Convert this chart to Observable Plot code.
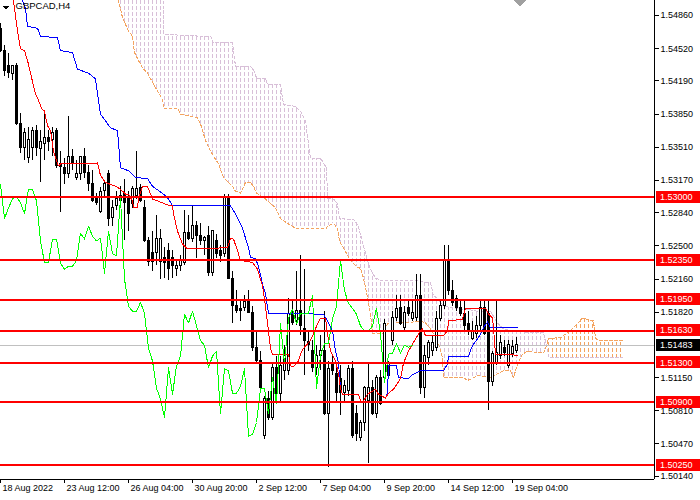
<!DOCTYPE html>
<html><head><meta charset="utf-8">
<script src="https://cdn.jsdelivr.net/npm/d3@7"></script>
<script src="https://cdn.jsdelivr.net/npm/@observablehq/plot@0.6"></script>
<style>
html,body{margin:0;padding:0;background:#fff;}
#chart svg{display:block;}
</style></head><body><div id="chart"></div>
<script>
// ---- Candles (GBPCAD H4), bar index 0..129 ----
const open = [
1.5472,1.5450,1.5434,1.5426,1.5434,1.5375,1.5350,1.5340,1.5350,1.5368,
1.5349,1.5354,1.5361,1.5358,1.5368,1.5334,1.5330,1.5324,1.5341,1.5320,
1.5324,1.5341,1.5325,1.5313,1.5298,1.5285,1.5306,1.5324,1.5279,1.5291,
1.5296,1.5303,1.5299,1.5293,1.5301,1.5309,1.5289,1.5255,1.5243,1.5243,
1.5233,1.5238,1.5245,1.5238,1.5226,1.5229,1.5232,1.5263,1.5257,1.5270,
1.5260,1.5255,1.5260,1.5222,1.5255,1.5245,1.5242,1.5299,1.5216,1.5188,
1.5185,1.5186,1.5192,1.5181,1.5145,1.5132,1.5055,1.5093,1.5074,1.5125,
1.5098,1.5122,1.5122,1.5180,1.5173,1.5183,1.5165,1.5151,1.5142,1.5125,
1.5137,1.5142,1.5078,1.5129,1.5119,1.5114,1.5099,1.5101,1.5124,1.5078,
1.5053,1.5069,1.5091,1.5104,1.5078,1.5115,1.5115,1.5117,1.5153,1.5176,
1.5186,1.5166,1.5186,1.5175,1.5176,1.5199,1.5104,1.5135,1.5142,1.5145,
1.5175,1.5188,1.5235,1.5204,1.5196,1.5186,1.5180,1.5170,1.5155,1.5160,
1.5168,1.5186,1.5180,1.5110,1.5129,1.5137,1.5145,1.5127,1.5139,1.5142];
const high = [
1.5478,1.5455,1.5447,1.5434,1.5437,1.5386,1.5370,1.5371,1.5371,1.5373,
1.5368,1.5385,1.5368,1.5371,1.5370,1.5347,1.5340,1.5383,1.5349,1.5337,
1.5342,1.5350,1.5332,1.5327,1.5304,1.5310,1.5317,1.5327,1.5296,1.5306,
1.5311,1.5318,1.5306,1.5311,1.5347,1.5313,1.5296,1.5259,1.5265,1.5281,
1.5267,1.5248,1.5252,1.5245,1.5235,1.5240,1.5286,1.5281,1.5291,1.5275,
1.5273,1.5260,1.5270,1.5265,1.5262,1.5250,1.5303,1.5303,1.5224,1.5204,
1.5194,1.5199,1.5204,1.5188,1.5163,1.5142,1.5096,1.5101,1.5130,1.5137,
1.5137,1.5148,1.5196,1.5194,1.5224,1.5240,1.5226,1.5163,1.5153,1.5148,
1.5158,1.5183,1.5132,1.5137,1.5127,1.5127,1.5112,1.5127,1.5132,1.5086,
1.5071,1.5106,1.5129,1.5112,1.5117,1.5122,1.5175,1.5132,1.5183,1.5199,
1.5199,1.5188,1.5194,1.5194,1.5221,1.5221,1.5148,1.5153,1.5158,1.5183,
1.5194,1.5250,1.5250,1.5214,1.5199,1.5194,1.5194,1.5183,1.5173,1.5178,
1.5194,1.5194,1.5194,1.5142,1.5194,1.5158,1.5153,1.5153,1.5153,1.5156];
const low = [
1.5448,1.5424,1.5421,1.5419,1.5373,1.5345,1.5337,1.5334,1.5337,1.5342,
1.5315,1.5337,1.5347,1.5342,1.5329,1.5284,1.5313,1.5319,1.5327,1.5317,
1.5317,1.5319,1.5306,1.5294,1.5291,1.5283,1.5301,1.5270,1.5270,1.5286,
1.5288,1.5255,1.5265,1.5288,1.5298,1.5294,1.5253,1.5229,1.5224,1.5230,
1.5216,1.5217,1.5214,1.5217,1.5219,1.5224,1.5230,1.5255,1.5253,1.5237,
1.5250,1.5240,1.5219,1.5219,1.5237,1.5233,1.5238,1.5216,1.5170,1.5181,
1.5173,1.5183,1.5181,1.5142,1.5130,1.5101,1.5052,1.5071,1.5071,1.5096,
1.5091,1.5112,1.5117,1.5168,1.5168,1.5158,1.5117,1.5142,1.5120,1.5117,
1.5122,1.5076,1.5023,1.5117,1.5091,1.5076,1.5091,1.5096,1.5053,1.5050,
1.5050,1.5060,1.5027,1.5076,1.5073,1.5086,1.5112,1.5114,1.5148,1.5173,
1.5168,1.5163,1.5178,1.5173,1.5173,1.5098,1.5094,1.5127,1.5137,1.5142,
1.5173,1.5185,1.5199,1.5188,1.5183,1.5178,1.5163,1.5158,1.5153,1.5155,
1.5163,1.5158,1.5081,1.5106,1.5127,1.5134,1.5137,1.5124,1.5136,1.5140];
const close = [
1.5450,1.5429,1.5427,1.5434,1.5375,1.5350,1.5366,1.5358,1.5368,1.5350,
1.5356,1.5361,1.5356,1.5366,1.5332,1.5331,1.5324,1.5341,1.5334,1.5324,
1.5341,1.5325,1.5313,1.5296,1.5294,1.5305,1.5313,1.5278,1.5289,1.5298,
1.5301,1.5294,1.5283,1.5308,1.5308,1.5296,1.5255,1.5233,1.5233,1.5257,
1.5257,1.5232,1.5226,1.5229,1.5229,1.5235,1.5263,1.5257,1.5270,1.5260,
1.5255,1.5258,1.5222,1.5265,1.5242,1.5240,1.5299,1.5216,1.5188,1.5183,
1.5183,1.5192,1.5181,1.5145,1.5132,1.5104,1.5093,1.5074,1.5125,1.5098,
1.5127,1.5137,1.5180,1.5171,1.5183,1.5168,1.5153,1.5148,1.5125,1.5137,
1.5142,1.5078,1.5124,1.5122,1.5099,1.5099,1.5106,1.5124,1.5055,1.5057,
1.5069,1.5104,1.5104,1.5078,1.5115,1.5088,1.5170,1.5129,1.5176,1.5185,
1.5170,1.5181,1.5180,1.5181,1.5199,1.5104,1.5137,1.5150,1.5150,1.5175,
1.5188,1.5235,1.5204,1.5191,1.5186,1.5180,1.5168,1.5163,1.5163,1.5168,
1.5186,1.5160,1.5110,1.5139,1.5140,1.5150,1.5140,1.5148,1.5146,1.51483];

// ---- Ichimoku: Tenkan-sen (red) ----
const tenkanBar = [2.5,3.25,3.75,4.25,5,6,6.75,7.5,8.25,8.75,9.5,10.25,11,11.75,12.5,13.25,14,14.5,15,23.25,24.25,25,26.25,28.75,30,31.25,32,33,33.25,34.25,34.5,35.5,36.75,38,39.25,41.75,43,43.25,44.25,45.5,46.75,56.75,57.5,58.25,59.25,60,63,64.25,65.5,66.25,67.5,68,72,72.5,73.25,74.5,75,75.75,77.5,78.25,79.25,80,81.25,81.75,82.5,83.75,84.5,85,85.5,89.5,90,90.75,91.75,93.75,94.5,96.25,97,98.25,100,100.75,102,103.25,105,105.5,106.25,110.75,111.75,112,115.5,116.25,121.25,122,123,123.25,123.75,129.25];
const tenkanPrice = [1.5516,1.5501,1.5486,1.5470,1.5452,1.5450,1.5440,1.5427,1.5414,1.5406,1.5399,1.5391,1.5388,1.5373,1.5368,1.5347,1.5337,1.5332,1.5334,1.5334,1.5335,1.5322,1.5315,1.5311,1.5308,1.5303,1.5303,1.5296,1.5289,1.5289,1.5298,1.5311,1.5311,1.5298,1.5296,1.5292,1.5291,1.5283,1.5265,1.5252,1.5247,1.5248,1.5258,1.5257,1.5245,1.5235,1.5233,1.5226,1.5209,1.5188,1.5145,1.5139,1.5139,1.5127,1.5126,1.5132,1.5139,1.5145,1.5153,1.5160,1.5170,1.5176,1.5176,1.5160,1.5142,1.5132,1.5119,1.5104,1.5098,1.5098,1.5091,1.5091,1.5098,1.5103,1.5098,1.5094,1.5099,1.5103,1.5114,1.5130,1.5142,1.5151,1.5163,1.5165,1.5158,1.5158,1.5163,1.5173,1.5175,1.5186,1.5186,1.5180,1.5176,1.5166,1.5139,1.5138];

// ---- Kijun-sen (blue) ----
const kijunBar = [5,5.5,6.25,6.75,9.25,10,14.25,15,18,19.25,22,23.75,25,27.5,29.25,30,32,33.75,36.75,38,40.75,42,43,57.5,58.25,59.25,60.5,61.25,62,62.5,63.75,64.5,65.5,66.25,67,80.75,81.75,83,83.75,84.5,85,85.5,89.5,90,90.75,91.75,93.75,94.5,96.25,96.75,97,99,99.5,102,103,105,110.75,111.75,112,117,118,119.5,120.75,121.75,122.5,129.25];
const kijunPrice = [1.5511,1.5501,1.5493,1.5475,1.5473,1.5465,1.5463,1.5450,1.5448,1.5431,1.5427,1.5421,1.5385,1.5371,1.5368,1.5330,1.5327,1.5320,1.5319,1.5311,1.5303,1.5298,1.5291,1.5291,1.5286,1.5279,1.5268,1.5258,1.5248,1.5238,1.5237,1.5229,1.5211,1.5201,1.5181,1.5180,1.5173,1.5163,1.5142,1.5130,1.5104,1.5098,1.5098,1.5091,1.5091,1.5098,1.5103,1.5098,1.5094,1.5099,1.5127,1.5127,1.5115,1.5114,1.5118,1.5122,1.5122,1.5129,1.5137,1.5137,1.5148,1.5156,1.5166,1.5172,1.5166,1.5166];

// ---- Kumo: Senkou Span A (sandy brown) and B (thistle) ----
const cloudBar = [28,29.5,30.5,32,33,33.5,35.5,36.75,38.75,40,40.5,40.75,44.25,45,49.25,50,51.25,52.5,53.25,54.5,55.75,58,58.75,60,61.25,62.5,63.25,64,66.25,66.75,68.75,70,70.75,71.75,73.75,75,76.25,77,77.5,80,80.75,81.5,81.75,83.25,84.25,84.75,87.5,88.25,89.25,90,90.75,91.75,92.5,93,93.75,95.5,96.75,98.75,101.25,105,106.25,107.5,108.25,109.25,110.5,110.75,115.75,116.75,119.25,122.5,124.25,125.75,127.5,128.25,129.25,130.5,131.75,135.75,136.5,137,140,142.5,145.5,148.25,148.75,150,155.5];
const cloudA = [1.5516,1.5501,1.5484,1.5470,1.5465,1.5448,1.5432,1.5427,1.5412,1.5404,1.5399,1.5391,1.5391,1.5385,1.5381,1.5375,1.5358,1.5347,1.5342,1.5334,1.5320,1.5311,1.5306,1.5304,1.5315,1.5315,1.5311,1.5304,1.5298,1.5296,1.5289,1.5278,1.5276,1.5273,1.5268,1.5268,1.5268,1.5268,1.5268,1.5268,1.5268,1.5268,1.5270,1.5273,1.5268,1.5255,1.5235,1.5232,1.5228,1.5227,1.5217,1.5197,1.5180,1.5160,1.5160,1.5160,1.5170,1.5171,1.5171,1.5173,1.5171,1.5165,1.5160,1.5153,1.5135,1.5115,1.5115,1.5112,1.5117,1.5115,1.5119,1.5122,1.5122,1.5115,1.5129,1.5139,1.5142,1.5140,1.5148,1.5155,1.5156,1.5163,1.5176,1.5173,1.5155,1.5153,1.5153];
const cloudB = [1.5542,1.5542,1.5542,1.5542,1.5542,1.5542,1.5542,1.5542,1.5542,1.5542,1.5542,1.5467,1.5466,1.5466,1.5465,1.5465,1.5465,1.5465,1.5458,1.5458,1.5458,1.5458,1.5434,1.5434,1.5434,1.5434,1.5431,1.5422,1.5421,1.5416,1.5415,1.5415,1.5395,1.5394,1.5393,1.5388,1.5378,1.5354,1.5340,1.5340,1.5335,1.5330,1.5299,1.5298,1.5293,1.5278,1.5277,1.5277,1.5272,1.5262,1.5250,1.5235,1.5226,1.5222,1.5217,1.5214,1.5214,1.5214,1.5214,1.5214,1.5212,1.5212,1.5199,1.5196,1.5190,1.5188,1.5185,1.5185,1.5183,1.5183,1.5171,1.5165,1.5163,1.5163,1.5163,1.5162,1.5161,1.5161,1.5148,1.5136,1.5136,1.5136,1.5136,1.5136,1.5136,1.5136,1.5136];

// ---- Horizontal levels, price axis, time axis ----
const levels = [1.5300,1.5235,1.5195,1.5163,1.5130,1.5090,1.5025];
const lastPrice = 1.51483;
const yTicks = [1.54860,1.54520,1.54190,1.53850,1.53510,1.53170,1.52840,1.52500,1.52160,1.51820,1.51150,1.50810,1.50470,1.50140];
const xTickBars = [0,16,32,48,64,80,96,112,128];
const xTickLabels = ["18 Aug 2022","23 Aug 12:00","26 Aug 04:00","30 Aug 20:00","2 Sep 12:00","7 Sep 04:00","9 Sep 20:00","14 Sep 12:00","19 Sep 04:00"];
const symbolTitle = "GBPCAD,H4";
const chikouShift = 26;

const FONT = "'Liberation Sans', Arial, sans-serif";
const FS = 9;
const bars = open.map((o,i)=>({i, open:o, high:high[i], low:low[i], close:close[i]}));
const tenkan = tenkanBar.map((b,i)=>({bar:b, v:tenkanPrice[i]}));
const kijun = kijunBar.map((b,i)=>({bar:b, v:kijunPrice[i]}));
const cloud = cloudBar.map((b,i)=>({bar:b, a:cloudA[i], b:cloudB[i]}));
const chikou = bars.filter(d=>d.i>=chikouShift);

const chart = Plot.plot({
  width: 700, height: 500,
  marginTop: 0, marginLeft: 0, marginRight: 46, marginBottom: 21,
  style: {fontFamily: FONT, fontSize: FS + "px", color: "#000", background: "#fff", overflow: "visible"},
  x: {type: "linear", domain: [0, 163.5], axis: null},
  y: {domain: [1.50106, 1.55014], axis: null},
  marks: [
    // cloud hatching
    Plot.areaY(cloud, {x: "bar", y1: "a", y2: d=>Math.max(d.a,d.b), fill: "url(#hatchPlum)", clip: true}),
    Plot.areaY(cloud, {x: "bar", y1: "b", y2: d=>Math.max(d.a,d.b), fill: "url(#hatchOrange)", clip: true}),
    Plot.line(cloud, {x: "bar", y: "b", stroke: "#D8BFD8", strokeWidth: 1, strokeDasharray: "3,2", clip: true}),
    Plot.line(cloud, {x: "bar", y: "a", stroke: "#F4A460", strokeWidth: 1, strokeDasharray: "3,2", clip: true}),
    // last price line
    Plot.ruleY([lastPrice], {stroke: "#C0C0C0", strokeWidth: 1}),
    // candles
    Plot.ruleX(bars, {x: "i", y1: "low", y2: "high", stroke: "#000", strokeWidth: 1}),
    Plot.rect(bars, {x1: d=>d.i-0.25, x2: d=>d.i+0.25, y1: "open", y2: "close",
      fill: d=>d.close>=d.open ? "#fff" : "#000", stroke: "#000", strokeWidth: 1}),
    // Ichimoku lines
    Plot.line(kijun, {x: "bar", y: "v", stroke: "#0000FF", strokeWidth: 1, clip: true}),
    Plot.line(tenkan, {x: "bar", y: "v", stroke: "#FF0000", strokeWidth: 1, clip: true}),
    Plot.line(chikou, {x: d=>d.i-chikouShift, y: "close", stroke: "#00FF00", strokeWidth: 1, clip: true}),
    // support / resistance levels
    Plot.ruleY(levels, {stroke: "#FF0000", strokeWidth: 2}),
    // frame
    Plot.ruleX([163.5], {stroke: "#000"}),
    Plot.ruleY([1.50106], {stroke: "#000"}),
    // axes
    Plot.axisY(yTicks, {anchor: "right", tickSize: 4, tickPadding: 2, tickFormat: d=>d.toFixed(5), fontSize: FS}),
    Plot.axisX(xTickBars, {anchor: "bottom", tickSize: 4, fill: "none", tickFormat: null}),
    Plot.axisX(xTickBars, {anchor: "bottom", tickSize: 0, tickPadding: 5, dx: 2, textAnchor: "start",
      tickFormat: d=>xTickLabels[xTickBars.indexOf(d)], fontSize: FS}),
    // title
    Plot.text([symbolTitle], {frameAnchor: "top-left", dx: 15, dy: 2, textAnchor: "start", lineAnchor: "top", fontSize: 9.5, fill: "#000"})
  ]
});
chart.style.shapeRendering = "crispEdges";
document.getElementById("chart").append(chart);

const svg = d3.select(chart);
const defs = svg.insert("defs", ":first-child");
defs.append("pattern").attr("id","hatchPlum").attr("patternUnits","userSpaceOnUse").attr("width",4).attr("height",6)
  .append("rect").attr("x",0).attr("y",0).attr("width",1).attr("height",4).attr("fill","#D8BFD8");
defs.append("pattern").attr("id","hatchOrange").attr("patternUnits","userSpaceOnUse").attr("width",4).attr("height",6)
  .append("rect").attr("x",0).attr("y",0).attr("width",1).attr("height",4).attr("fill","#F4A460");

const xs = chart.scale("x"), ys = chart.scale("y");
const right = xs.range[1];
const g = svg.append("g").attr("font-family", FONT).attr("font-size", FS).attr("text-anchor", "start");
function priceBox(v, color){
  const yy = ys.apply(v);
  g.append("rect").attr("x", right+2).attr("y", Math.round(yy)-6).attr("width", 44).attr("height", 12).attr("fill", color);
  g.append("text").attr("x", right+6).attr("y", yy).attr("dy", "0.35em").attr("text-anchor", "start").attr("fill", "#fff").text(v.toFixed(5));
}
levels.forEach(v=>priceBox(v, "#FF0000"));
priceBox(lastPrice, "#000000");
// title arrow marker and chart-shift marker
svg.append("path").attr("d", `M3,6 L9,6 L6,10 Z`).attr("fill", "#000");
const sx = xs.apply(130);
svg.append("path").attr("d", `M${sx-7},0 L${sx+7},0 L${sx},6 Z`).attr("fill", "#A0A0A0");
</script></body></html>
